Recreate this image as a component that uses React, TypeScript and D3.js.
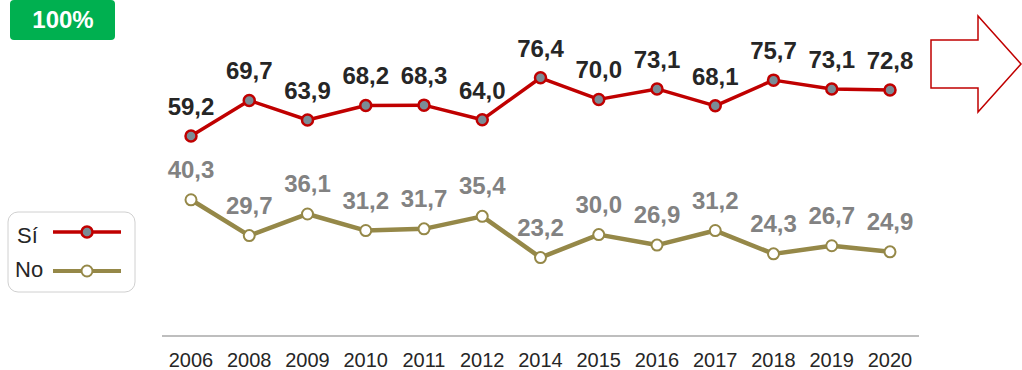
import React from "react";
import * as d3 from "d3";

const years = ["2006","2008","2009","2010","2011","2012","2014","2015","2016","2017","2018","2019","2020"];
const si = [59.2,69.7,63.9,68.2,68.3,64.0,76.4,70.0,73.1,68.1,75.7,73.1,72.8];
const no = [40.3,29.7,36.1,31.2,31.7,35.4,23.2,30.0,26.9,31.2,24.3,26.7,24.9];

const fmt = (v: number) => v.toFixed(1).replace(".", ",");

export default function App() {
  const W = 1022, H = 370;
  const x = d3.scalePoint<string>().domain(years).range([191, 890]);
  const y = d3.scaleLinear().domain([0, 100]).range([336, -2]);
  const line = d3.line<number>().x((_, i) => x(years[i])!).y(d => y(d));
  const font = "'Liberation Sans', Arial, sans-serif";
  return (
    <svg width={W} height={H} style={{ position: "absolute", left: 0, top: 0 }} fontFamily={font}>
      <rect x={10} y={0} width={105} height={40} rx={4} fill="#00B050" />
      <text x={63} y={28} textAnchor="middle" fill="#fff" fontWeight="bold" fontSize={24}>100%</text>

      <path d="M931,40 L978,40 L978,16 L1021,64 L978,112 L978,88 L931,88 Z" fill="none" stroke="#C00000" strokeWidth={1.5} />

      <line x1={162} x2={919} y1={336} y2={336} stroke="#7f7f7f" strokeWidth={1.2} />
      {years.map(yr => (
        <text key={yr} x={x(yr)} y={367} textAnchor="middle" fontSize={20} fill="#262626">{yr}</text>
      ))}

      <path d={line(no) || ""} fill="none" stroke="#958848" strokeWidth={4.5} strokeLinejoin="round" />
      {no.map((v, i) => (
        <circle key={i} cx={x(years[i])} cy={y(v)} r={5.5} fill="#fff" stroke="#958848" strokeWidth={2} />
      ))}
      {no.map((v, i) => (
        <text key={i} x={x(years[i])} y={y(v) - 22} textAnchor="middle" fontSize={24} fontWeight="bold" fill="#828282">{fmt(v)}</text>
      ))}

      <path d={line(si) || ""} fill="none" stroke="#C00000" strokeWidth={3.5} strokeLinejoin="round" />
      {si.map((v, i) => (
        <circle key={i} cx={x(years[i])} cy={y(v)} r={5.5} fill="#7A8C96" stroke="#C00000" strokeWidth={2.5} />
      ))}
      {si.map((v, i) => (
        <text key={i} x={x(years[i])} y={y(v) - 21} textAnchor="middle" fontSize={24} fontWeight="bold" fill="#262626">{fmt(v)}</text>
      ))}

      <rect x={8} y={212} width={127} height={80} rx={10} fill="#fff" stroke="#d0d0d0" strokeWidth={1} />
      <text x={17} y={243} fontSize={22} fill="#262626">Sí</text>
      <line x1={53} x2={121} y1={232} y2={232} stroke="#C00000" strokeWidth={3.5} />
      <circle cx={87} cy={232} r={5.5} fill="#7A8C96" stroke="#C00000" strokeWidth={2.5} />
      <text x={15} y={277} fontSize={22} fill="#262626">No</text>
      <line x1={53} x2={121} y1={271} y2={271} stroke="#958848" strokeWidth={4} />
      <circle cx={87} cy={271} r={5.5} fill="#fff" stroke="#958848" strokeWidth={2} />
    </svg>
  );
}
